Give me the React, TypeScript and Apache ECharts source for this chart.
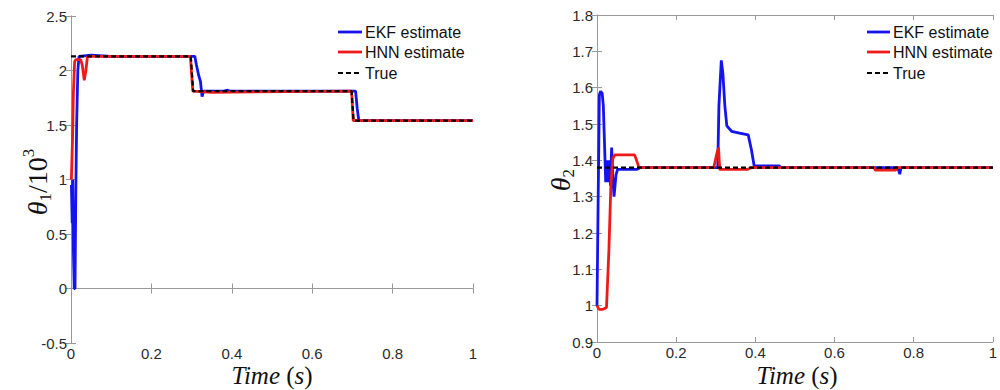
import React, { useEffect, useRef } from "react";
import * as echarts from "echarts";

// ---- Data (time in s) ----
const legendNames = ["EKF estimate", "HNN estimate", "True"];
const xTicks = [0, 0.2, 0.4, 0.6, 0.8, 1];

// theta1 / 10^3
const theta1True: number[][] = [
  [0, 2.13], [0.298, 2.13], [0.304, 1.81], [0.698, 1.81], [0.703, 1.54], [1, 1.54],
];
const theta1Ekf: number[][] = [
  [0.001, 0.95], [0.003, 0.6], [0.004, 1.0], [0.006, 0.35], [0.008, 0.0], [0.01, 0.0],
  [0.012, 0.9], [0.014, 1.5], [0.017, 2.0], [0.02, 2.13], [0.05, 2.14], [0.1, 2.13],
  [0.308, 2.13], [0.312, 2.05], [0.318, 1.95], [0.322, 1.9], [0.326, 1.76], [0.33, 1.81],
  [0.38, 1.81], [0.39, 1.82], [0.395, 1.81], [0.708, 1.81], [0.712, 1.65], [0.716, 1.54], [1, 1.54],
];
const theta1Hnn: number[][] = [
  [0.001, 1.0], [0.004, 1.4], [0.006, 1.8], [0.009, 2.08], [0.012, 2.1], [0.024, 2.1],
  [0.028, 2.05], [0.033, 1.91], [0.037, 2.0], [0.041, 2.13], [0.1, 2.13], [0.297, 2.13],
  [0.303, 1.81], [0.35, 1.8], [0.698, 1.81], [0.702, 1.54], [1, 1.54],
];

// theta2
const theta2True: number[][] = [[0, 1.38], [1, 1.38]];
const theta2Ekf: number[][] = [
  [0, 1.0], [0.003, 1.3], [0.006, 1.58], [0.009, 1.59], [0.013, 1.585], [0.016, 1.55],
  [0.022, 1.34], [0.025, 1.4], [0.028, 1.34], [0.031, 1.4], [0.034, 1.33], [0.037, 1.435],
  [0.04, 1.35], [0.043, 1.3], [0.048, 1.36], [0.052, 1.375], [0.1, 1.375], [0.11, 1.38],
  [0.305, 1.38], [0.308, 1.55], [0.314, 1.675], [0.318, 1.64], [0.323, 1.55], [0.328, 1.495],
  [0.34, 1.48], [0.36, 1.475], [0.382, 1.47], [0.39, 1.43], [0.397, 1.385], [0.46, 1.385],
  [0.465, 1.38], [0.76, 1.38], [0.765, 1.362], [0.768, 1.38], [1, 1.38],
];
const theta2Hnn: number[][] = [
  [0, 1.0], [0.005, 0.99], [0.015, 0.99], [0.024, 0.995], [0.03, 1.15], [0.035, 1.33],
  [0.04, 1.405], [0.045, 1.415], [0.095, 1.415], [0.1, 1.4], [0.106, 1.38], [0.295, 1.38],
  [0.303, 1.42], [0.307, 1.435], [0.31, 1.375], [0.38, 1.375], [0.39, 1.38], [0.7, 1.38],
  [0.703, 1.373], [0.755, 1.373], [0.758, 1.38], [1, 1.38],
];

const BLUE = "#1414ee";
const RED = "#ee1a1a";
const AXIS = "#9a9a9a";
const LABEL = "#2a2a2a";
const LINE_W = 2.8;
const DASH = [5, 3];
const sans = "Liberation Sans, Arial, sans-serif";
const serif = "Liberation Serif, Times New Roman, serif";

function xAxes(grid: number) {
  const base = {
    type: "value" as const,
    gridIndex: grid,
    min: 0,
    max: 1,
    interval: 0.2,
    splitLine: { show: false },
    axisLine: { show: true, lineStyle: { color: AXIS, width: 1 } },
    axisTick: { show: true, inside: true, length: 5, lineStyle: { color: AXIS } },
  };
  return [
    {
      ...base,
      position: "bottom",
      axisLabel: {
        show: true, color: LABEL, fontSize: 15, fontFamily: sans, margin: 3, lineHeight: 15,
        formatter: (v: number) => (xTicks.includes(Math.round(v * 10) / 10) ? String(Math.round(v * 10) / 10) : ""),
      },
    },
    { ...base, position: "top", axisLabel: { show: false } },
  ];
}

function yAxes(grid: number, min: number, max: number, interval: number) {
  const base = {
    type: "value" as const,
    gridIndex: grid,
    min,
    max,
    interval,
    splitLine: { show: false },
    axisLine: { show: true, lineStyle: { color: AXIS, width: 1 } },
    axisTick: { show: true, inside: true, length: 5, lineStyle: { color: AXIS } },
  };
  return [
    {
      ...base,
      position: "left",
      axisLabel: {
        show: true, color: LABEL, fontSize: 15, fontFamily: sans, margin: 4,
        formatter: (v: number) => String(Math.round(v * 10) / 10),
      },
    },
    { ...base, position: "right", axisLabel: { show: false } },
  ];
}

function lineSeries(name: string, data: number[][], xi: number, yi: number, color: string, dashed: boolean) {
  return {
    type: "line",
    name,
    data,
    xAxisIndex: xi,
    yAxisIndex: yi,
    symbol: "none",
    showSymbol: false,
    silent: true,
    lineStyle: dashed ? { color: "#000", width: 2.2, type: DASH } : { color, width: LINE_W },
    itemStyle: { color: dashed ? "#000" : color },
    z: dashed ? 5 : 3,
  };
}

const legendColors = [BLUE, RED, "#000"];
const legendRows = [32, 52, 73];

function legendGraphics(x0: number, x1: number) {
  const out: any[] = [];
  legendNames.forEach((name, i) => {
    const dashed = i === 2;
    out.push({
      type: "line",
      silent: true,
      shape: { x1: x0, y1: legendRows[i], x2: x1, y2: legendRows[i] },
      style: { stroke: legendColors[i], lineWidth: dashed ? 2.2 : LINE_W, lineDash: dashed ? DASH : null },
    });
    out.push({
      type: "text",
      silent: true,
      x: x1 + 3,
      y: legendRows[i],
      style: { text: name, font: `16px ${sans}`, fill: "#111", align: "left", verticalAlign: "middle" },
    });
  });
  return out;
}

function timeLabel(x: number) {
  return {
    type: "text", x, y: 375, silent: true,
    style: {
      text: "{i|Time}{n| (}{i|s}{n|)}",
      align: "center", verticalAlign: "middle", fill: "#111",
      rich: {
        i: { fontFamily: serif, fontStyle: "italic", fontSize: 25, fill: "#111", lineHeight: 22 },
        n: { fontFamily: serif, fontSize: 25, fill: "#111", lineHeight: 22 },
      },
    },
  };
}

export default function App() {
  const ref = useRef<HTMLDivElement>(null);
  useEffect(() => {
    document.body.style.margin = "0";
    if (!ref.current) return;
    const chart = echarts.init(ref.current, null, { renderer: "svg" });
    chart.setOption({
      animation: false,
      backgroundColor: "#ffffff",
      grid: [
        { left: 71, top: 16, width: 402, height: 327 },
        { left: 597, top: 15, width: 405, height: 327 },
      ],
      xAxis: [...xAxes(0), ...xAxes(1)],
      yAxis: [...yAxes(0, -0.5, 2.5, 0.5), ...yAxes(1, 0.9, 1.8, 0.1)],
      series: [
        lineSeries("EKF estimate", theta1Ekf, 0, 0, BLUE, false),
        lineSeries("HNN estimate", theta1Hnn, 0, 0, RED, false),
        lineSeries("True", theta1True, 0, 0, "#000", true),
        lineSeries("EKF estimate", theta2Ekf, 2, 2, BLUE, false),
        lineSeries("HNN estimate", theta2Hnn, 2, 2, RED, false),
        lineSeries("True", theta2True, 2, 2, "#000", true),
      ],
      graphic: [
        ...legendGraphics(338, 362),
        ...legendGraphics(867, 890),
        {
          type: "text", x: 37, y: 182, rotation: Math.PI / 2, silent: true,
          style: {
            text: "{a|θ}{b|1}{n|/10}{c|3}",
            align: "center", verticalAlign: "middle", fill: "#111",
            rich: {
              a: { fontFamily: serif, fontStyle: "italic", fontSize: 28, fill: "#111", lineHeight: 34, verticalAlign: "middle" },
              n: { fontFamily: serif, fontSize: 28, fill: "#111", lineHeight: 34, verticalAlign: "middle" },
              b: { fontFamily: serif, fontSize: 17, fill: "#111", lineHeight: 34, verticalAlign: "bottom" },
              c: { fontFamily: serif, fontSize: 17, fill: "#111", lineHeight: 34, verticalAlign: "top" },
            },
          },
        },
        {
          type: "text", x: 560, y: 180, rotation: Math.PI / 2, silent: true,
          style: {
            text: "{a|θ}{b|2}",
            align: "center", verticalAlign: "middle", fill: "#111",
            rich: {
              a: { fontFamily: serif, fontStyle: "italic", fontSize: 28, fill: "#111", lineHeight: 34, verticalAlign: "middle" },
              b: { fontFamily: serif, fontSize: 17, fill: "#111", lineHeight: 34, verticalAlign: "bottom" },
            },
          },
        },
        timeLabel(272),
        timeLabel(797),
      ],
    });
    return () => chart.dispose();
  }, []);
  return <div ref={ref} style={{ width: 1000, height: 390 }} />;
}
